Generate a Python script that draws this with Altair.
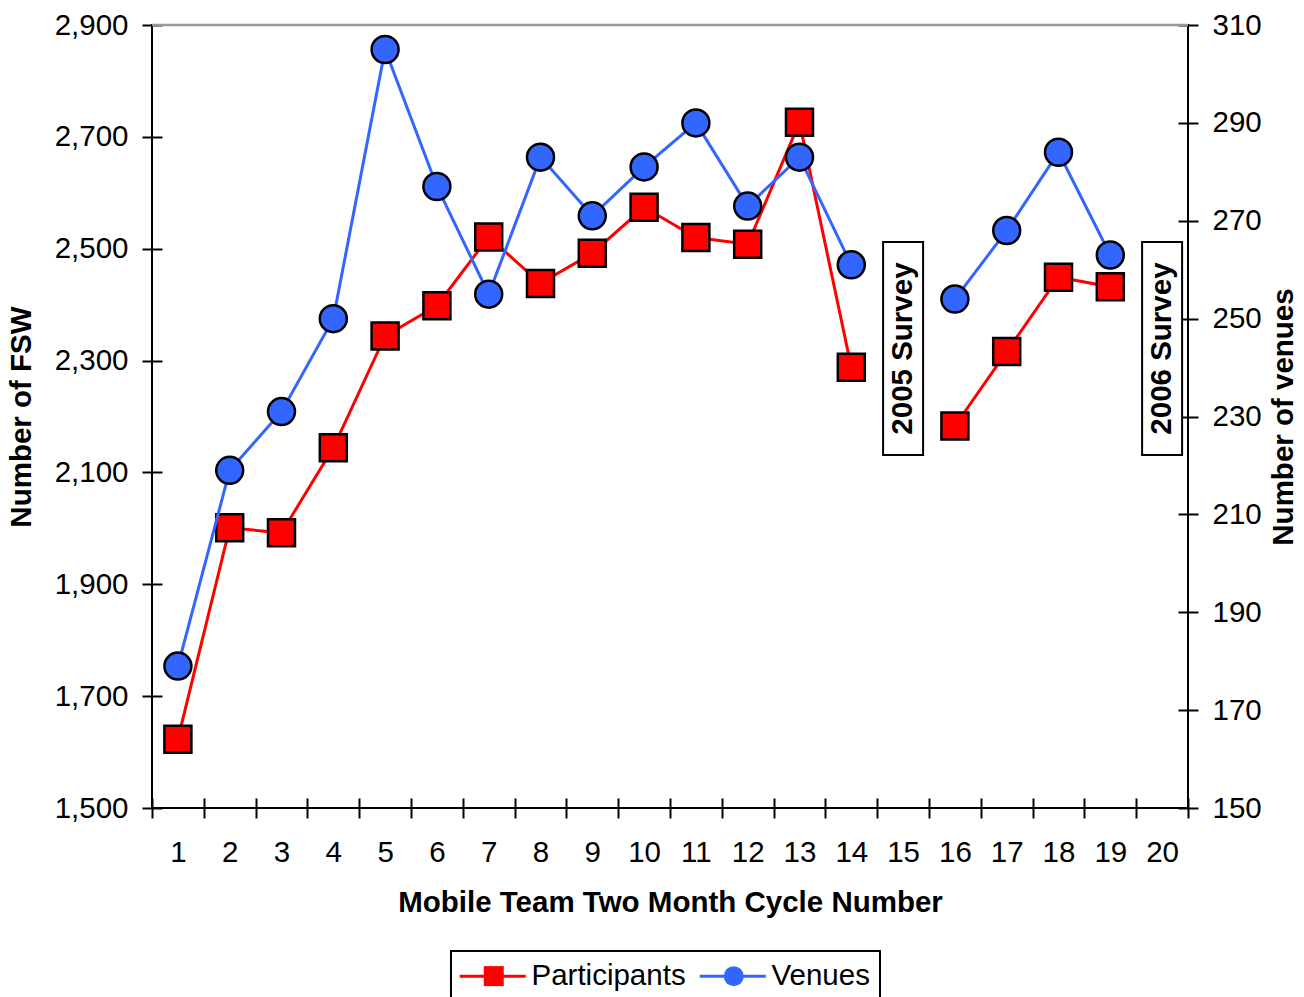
import altair as alt
import pandas as pd

# ---- data ----
cycles = list(range(1, 21))
participants = [1623, 2001, 1992, 2144, 2344, 2398, 2521, 2438, 2492, 2574,
                2520, 2508, 2726, 2288, None, 2183, 2316, 2449, 2432, None]
venues = [179, 219, 231, 250, 305, 277, 255, 283, 271, 281,
          290, 273, 283, 261, None, 254, 268, 284, 263, None]
series_names = ["Participants", "Venues"]
series_colors = ["#FF0000", "#3366FF"]
series_shapes = ["square", "circle"]
left_ticks = [1500, 1700, 1900, 2100, 2300, 2500, 2700, 2900]
right_ticks = [150, 170, 190, 210, 230, 250, 270, 290, 310]
survey_cycles = [15, 20]
survey_labels = ["2005 Survey", "2006 Survey"]
survey_low = [2131, 2131]
survey_high = [2512, 2512]

FONT = "Liberation Sans"
FS = 29.5

df = pd.DataFrame({"cycle": cycles, "participants": participants, "venues": venues})
df["segment"] = df["participants"].isna().cumsum()
p_df = df.dropna(subset=["participants"]).assign(s1=series_names[0], s2=series_names[0])
v_df = df.dropna(subset=["venues"]).assign(s1=series_names[1], s2=series_names[1])
box_df = pd.DataFrame({"cycle": survey_cycles, "label": survey_labels,
                       "participants": survey_low, "high": survey_high})
box_df["mid"] = (box_df["participants"] + box_df["high"]) / 2
top_df = pd.DataFrame({"v": [left_ticks[-1]]})

common_axis = dict(offset=-10, tickSize=20, tickWidth=2, tickColor="black", domain=False, grid=False,
                   labelFontSize=FS, titleFontSize=FS, labelFont=FONT, titleFont=FONT,
                   titleFontWeight="bold", labelColor="black", titleColor="black")

x_enc = alt.X("cycle:O",
              scale=alt.Scale(type="band", domain=cycles, paddingInner=0, paddingOuter=0),
              axis=alt.Axis(title="Mobile Team Two Month Cycle Number", labelAngle=0, tickBand="extent",
                            labelPadding=20, titlePadding=22, **common_axis))

left_scale = alt.Scale(domain=[left_ticks[0], left_ticks[-1]], nice=False, zero=False)
left_axis = alt.Axis(title="Number of FSW", values=left_ticks, format=",.0f",
                     labelPadding=14, titlePadding=18, **common_axis)
right_scale = alt.Scale(domain=[right_ticks[0], right_ticks[-1]], nice=False, zero=False)
right_axis = alt.Axis(title="Number of venues", values=right_ticks, orient="right", format=".0f",
                      labelPadding=14, titlePadding=8, titleAngle=270, titleBaseline="top", **common_axis)

legend_a = alt.Legend(orient="none", legendX=299, legendY=926, direction="horizontal", columns=2, title=None,
                      symbolType="M-3.3,0H3.3", symbolSize=400, symbolStrokeWidth=3, symbolOffset=17,
                      labelFontSize=FS, labelFont=FONT, labelColor="black", labelOffset=24,
                      columnPadding=7, padding=10, strokeColor="black", fillColor="white", zindex=1)
legend_b = alt.Legend(orient="none", legendX=299, legendY=926, direction="horizontal", columns=2, title=None,
                      symbolSize=400, symbolStrokeColor="black", symbolStrokeWidth=2, symbolOffset=18,
                      labelFontSize=FS, labelFont=FONT, labelOpacity=0, labelOffset=25,
                      columnPadding=13, padding=10, zindex=2)

stroke_enc = alt.Stroke("s1:N", scale=alt.Scale(range=series_colors), legend=legend_a)
fill_enc = alt.Fill("s2:N", scale=alt.Scale(range=series_colors), legend=legend_b)
shape_enc = alt.Shape("s2:N", scale=alt.Scale(range=series_shapes), legend=legend_b)

top_rule = alt.Chart(top_df).mark_rule(color="#999999", strokeWidth=2.5).encode(
    y=alt.Y("v:Q", scale=left_scale, axis=left_axis))

boxes = alt.Chart(box_df).mark_bar(fill="white", stroke="black", strokeWidth=2, width=40).encode(
    x=x_enc,
    y=alt.Y("participants:Q", scale=left_scale, axis=left_axis),
    y2="high:Q")

box_text = alt.Chart(box_df).mark_text(angle=270, font=FONT, fontSize=FS, fontWeight="bold",
                                       color="black", align="center", baseline="middle").encode(
    x=x_enc,
    y=alt.Y("mid:Q", scale=left_scale, axis=left_axis),
    text="label:N")

p_line = alt.Chart(p_df).mark_line(strokeWidth=3).encode(
    x=x_enc, y=alt.Y("participants:Q", scale=left_scale, axis=left_axis),
    stroke=stroke_enc, detail="segment:N", order="cycle:Q")
p_pts = alt.Chart(p_df).mark_point(filled=True, size=729, stroke="black", strokeWidth=2.5, opacity=1).encode(
    x=x_enc, y=alt.Y("participants:Q", scale=left_scale, axis=left_axis),
    fill=fill_enc, shape=shape_enc)

v_line = alt.Chart(v_df).mark_line(strokeWidth=3).encode(
    x=x_enc, y=alt.Y("venues:Q", scale=right_scale, axis=right_axis),
    stroke=stroke_enc, detail="segment:N", order="cycle:Q")
v_pts = alt.Chart(v_df).mark_point(filled=True, size=729, stroke="black", strokeWidth=2.5, opacity=1).encode(
    x=x_enc, y=alt.Y("venues:Q", scale=right_scale, axis=right_axis),
    fill=fill_enc, shape=shape_enc)

part_layer = alt.layer(top_rule, boxes, box_text, p_line, p_pts)
venue_layer = alt.layer(v_line, v_pts)

chart = alt.layer(part_layer, venue_layer).resolve_scale(y="independent").properties(
    width=1036, height=783,
    autosize=alt.AutoSizeParams(type="none"),
    padding={"left": 144, "top": 17, "right": 108, "bottom": 189},
).configure_view(stroke="black", strokeWidth=2).configure_legend(strokeWidth=2)

chart.save("out.html", embed_options={"renderer": "svg", "actions": False})
